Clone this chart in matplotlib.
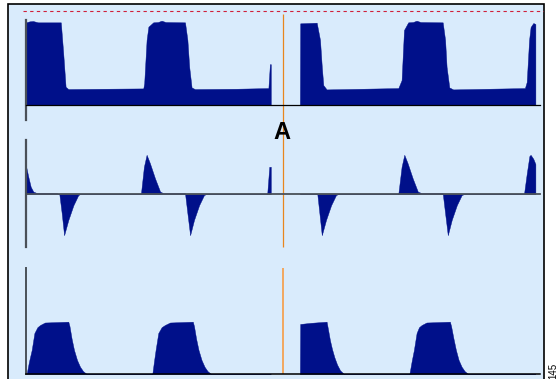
import matplotlib
matplotlib.use("Agg")
import matplotlib.pyplot as plt
from matplotlib.patches import Rectangle

# tiempo en segundos, dos tramos separados por el hueco del evento A
presion_t1 = [0, 0.12, 0.23, 0.4, 1.16, 1.24, 1.32, 1.41, 2.6, 3.91, 3.94, 4.02, 4.08, 4.24, 4.4,
              4.52, 4.65, 5.3, 5.38, 5.44, 5.52, 5.63, 7.0, 8.08, 8.13, 8.16]
presion_v1 = [24.9, 25.2, 25.3, 24.9, 24.9, 15.7, 5.5, 4.8, 4.9, 5.0, 6.6, 19.6, 23.6, 24.9, 25.0,
              25.4, 25.0, 24.9, 19.6, 11.5, 5.3, 4.8, 4.9, 5.1, 12.3, 12.3]
presion_t2 = [9.13, 9.14, 9.69, 9.8, 9.86, 9.91, 10.02, 11.2, 12.41, 12.52, 12.6, 12.74, 12.9, 13.02,
              13.15, 13.89, 13.97, 14.02, 14.11, 14.24, 15.4, 16.63, 16.69, 16.77, 16.82, 16.91, 16.98]
presion_v2 = [0, 24.6, 24.8, 19.6, 11.5, 6.0, 4.7, 4.9, 5.1, 7.5, 22.6, 24.9, 25.0, 25.4,
              25.0, 24.9, 19.6, 11.5, 5.3, 4.7, 4.9, 5.1, 6.9, 19.6, 23.5, 24.7, 24.4]

flujo_t1 = [0, 0.077, 0.157, 0.243, 0.357, 1.02, 1.11, 1.19, 1.27, 1.41, 1.58, 1.74, 1.8,
            3.83, 3.93, 4.02, 4.13, 4.3, 4.47, 4.58, 5.3, 5.38, 5.47, 5.6, 5.77, 5.93, 6.0,
            8.04, 8.11, 8.16]
flujo_v1 = [0.7, 0.43, 0.18, 0.06, 0.025, 0.02, 0, -0.48, -1.03, -0.65, -0.28, -0.03, 0,
            0, 0.68, 0.98, 0.77, 0.39, 0.06, 0.02, 0.02, -0.48, -1.03, -0.65, -0.28, -0.03, 0,
            0, 0.68, 0.68]
flujo_t2 = [9.13, 9.71, 9.78, 9.86, 10.0, 10.17, 10.33, 10.4,
            12.41, 12.52, 12.61, 12.72, 12.89, 13.06, 13.19, 13.89, 13.97, 14.06, 14.19, 14.36, 14.52, 14.6,
            16.6, 16.69, 16.78, 16.82, 16.91, 16.98]
flujo_v2 = [0, 0, -0.48, -1.03, -0.65, -0.28, -0.03, 0,
            0, 0.68, 0.98, 0.77, 0.39, 0.06, 0.02, 0.02, -0.48, -1.03, -0.65, -0.28, -0.03, 0,
            0, 0.5, 0.95, 0.98, 0.88, 0.75]

volumen_t1 = [0.02, 0.1, 0.19, 0.28, 0.38, 0.47, 0.63, 1.41, 1.45, 1.52, 1.6, 1.7, 1.8, 1.9, 2.02,
              4.21, 4.27, 4.32, 4.41, 4.52, 4.63, 4.8, 5.56, 5.6, 5.67, 5.75, 5.85, 5.95, 6.05, 6.17,
              8.16]
volumen_v1 = [0, 120, 231, 394, 450, 471, 495, 503, 460, 340, 231, 135, 70, 28, 0,
              0, 130, 231, 394, 450, 471, 495, 503, 460, 340, 231, 135, 70, 28, 0,
              0]
volumen_t2 = [9.13, 9.14, 9.5, 10.02, 10.06, 10.13, 10.2, 10.28, 10.37, 10.47, 10.6,
              12.78, 12.86, 12.93, 13.02, 13.1, 13.19, 13.35, 14.13, 14.17, 14.25, 14.33, 14.42,
              14.52, 14.62, 14.74, 16.98]
volumen_v2 = [0, 481, 492, 503, 440, 327, 240, 160, 90, 35, 0,
              0, 130, 231, 394, 450, 471, 495, 503, 460, 340, 231, 135,
              70, 28, 0, 0]

limite_presion = 28.2
evento_t = 8.57
evento_txt = "A"
codigo_fig = "145"

azul = "#00108a"
fondo = "#d9ebfc"
gris = "#4a5058"
naranja = "#e8861e"

fig = plt.figure(figsize=(5.57, 3.79), dpi=100)
fig.patches.append(Rectangle((8 / 557, -0.02), 536 / 557, 1 - 4 / 379 + 0.02,
                             transform=fig.transFigure, fc=fondo, ec="black", lw=1.2, zorder=-5))

x0, ancho = 23 / 557, 521 / 557
ax_p = fig.add_axes([x0, 1 - 125 / 379, ancho, 117 / 379])
ax_f = fig.add_axes([x0, 1 - 250 / 379, ancho, 125 / 379])
ax_v = fig.add_axes([x0, 1 - 374 / 379, ancho, 114 / 379])

xlim = (-0.1, 17.267)
ax_p.set_ylim(-6.02, 29.22)
ax_f.set_ylim(-1.4, 1.725)
ax_v.set_ylim(0, 1096)

for ax, (t1, v1, t2, v2) in zip(
        [ax_p, ax_f, ax_v],
        [(presion_t1, presion_v1, presion_t2, presion_v2),
         (flujo_t1, flujo_v1, flujo_t2, flujo_v2),
         (volumen_t1, volumen_v1, volumen_t2, volumen_v2)]):
    ax.set_xlim(*xlim)
    ax.patch.set_visible(False)
    ax.fill_between(t1, v1, 0, color=azul, lw=0.3, zorder=2)
    ax.fill_between(t2, v2, 0, color=azul, lw=0.3, zorder=2)
    ax.set_xticks([])
    ax.set_yticks([])
    for lado in ["top", "right"]:
        ax.spines[lado].set_visible(False)
    ax.spines["left"].set_position(("data", 0))
    ax.spines["bottom"].set_position(("data", 0))
    ax.spines["bottom"].set_bounds(0, 17.13)
    ax.spines["left"].set_zorder(3)
    ax.spines["bottom"].set_zorder(3)

ax_p.spines["left"].set_bounds(-4.5, 25.5)
ax_f.spines["left"].set_bounds(-1.33, 1.35)
ax_v.spines["left"].set_bounds(0, 1019)

ax_p.spines["left"].set(color=gris, lw=1.6)
ax_p.spines["bottom"].set(color="black", lw=0.9)
ax_f.spines["left"].set(color=gris, lw=1.6)
ax_f.spines["bottom"].set(color=gris, lw=1.3)
ax_v.spines["left"].set(color=gris, lw=1.4)
ax_v.spines["bottom"].set(color="black", lw=1.1)

ax_p.axhline(limite_presion, color="#d0203a", lw=0.8, linestyle=(0, (3.0, 3.0)), zorder=1)

ax_p.vlines(evento_t, -6.02, 27.4, color=naranja, lw=0.9, zorder=1)
ax_f.vlines(evento_t, -1.33, 1.725, color=naranja, lw=0.9, zorder=1)
ax_v.vlines(evento_t, 0, 1019, color="#f2a860", lw=1.4, zorder=1)

fig.text(282 / 557, 1 - 133 / 379, evento_txt, ha="center", va="center",
         fontsize=17, fontweight="bold", family="Liberation Sans")
fig.text(553 / 557, 1 - 370.5 / 379, codigo_fig, rotation=90, ha="center", va="center",
         fontsize=7, family="Liberation Sans")

fig.savefig("out.png", dpi=100)
